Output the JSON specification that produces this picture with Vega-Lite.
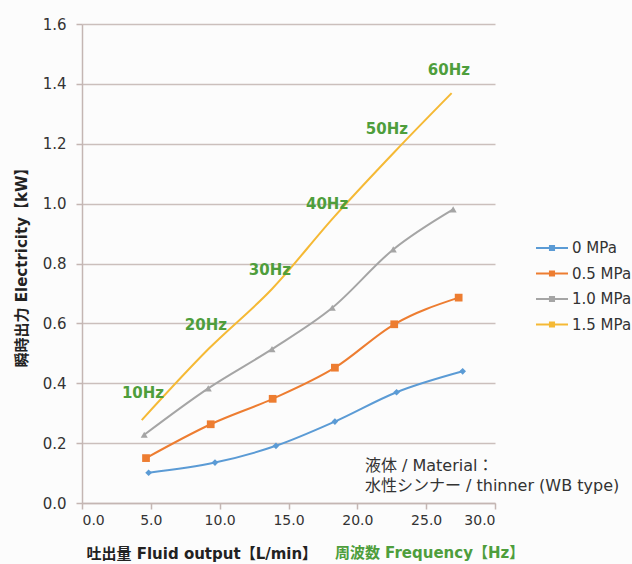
{
  "$schema": "https://vega.github.io/schema/vega-lite/v6.json",
  "width": 413,
  "height": 479,
  "autosize": {"type": "none"},
  "padding": {"left": 82, "top": 24, "right": 137, "bottom": 61},
  "background": "#fcfcfc",
  "config": {
    "view": {"stroke": null},
    "font": "DejaVu Sans, Noto Sans CJK JP",
    "axis": {
      "labelFont": "DejaVu Sans",
      "labelFontSize": 14,
      "labelColor": "#333333",
      "titleFont": "DejaVu Sans, Noto Sans CJK JP",
      "titleFontSize": 15,
      "titleFontWeight": "bold",
      "titleColor": "#222222",
      "domainColor": "#c4b6b3",
      "domainWidth": 1.5,
      "tickColor": "#c4b6b3",
      "tickWidth": 1.5,
      "tickSize": 6,
      "gridColor": "#cbbfbc",
      "gridWidth": 1.5
    },
    "legend": {
      "labelFont": "DejaVu Sans",
      "labelFontSize": 15,
      "labelColor": "#333333"
    }
  },
  "datasets": {
    "series": [
      {"series": "0 MPa", "flow": 4.84, "power": 0.101},
      {"series": "0 MPa", "flow": 9.66, "power": 0.135},
      {"series": "0 MPa", "flow": 14.09, "power": 0.191},
      {"series": "0 MPa", "flow": 18.37, "power": 0.272},
      {"series": "0 MPa", "flow": 22.85, "power": 0.370},
      {"series": "0 MPa", "flow": 27.65, "power": 0.440},
      {"series": "0.5 MPa", "flow": 4.65, "power": 0.150},
      {"series": "0.5 MPa", "flow": 9.35, "power": 0.263},
      {"series": "0.5 MPa", "flow": 13.85, "power": 0.348},
      {"series": "0.5 MPa", "flow": 18.37, "power": 0.452},
      {"series": "0.5 MPa", "flow": 22.68, "power": 0.597},
      {"series": "0.5 MPa", "flow": 27.36, "power": 0.686},
      {"series": "1.0 MPa", "flow": 4.52, "power": 0.228},
      {"series": "1.0 MPa", "flow": 9.17, "power": 0.383},
      {"series": "1.0 MPa", "flow": 13.8, "power": 0.514},
      {"series": "1.0 MPa", "flow": 18.18, "power": 0.652},
      {"series": "1.0 MPa", "flow": 22.61, "power": 0.847},
      {"series": "1.0 MPa", "flow": 26.96, "power": 0.981},
      {"series": "1.5 MPa", "flow": 4.34, "power": 0.277},
      {"series": "1.5 MPa", "flow": 9.2, "power": 0.515},
      {"series": "1.5 MPa", "flow": 13.8, "power": 0.715},
      {"series": "1.5 MPa", "flow": 18.3, "power": 0.955},
      {"series": "1.5 MPa", "flow": 22.75, "power": 1.175},
      {"series": "1.5 MPa", "flow": 26.85, "power": 1.369}
    ],
    "hz": [
      {"label": "10Hz", "flow": 4.43, "power": 0.367},
      {"label": "20Hz", "flow": 9.0, "power": 0.593},
      {"label": "30Hz", "flow": 13.65, "power": 0.777},
      {"label": "40Hz", "flow": 17.8, "power": 1.0},
      {"label": "50Hz", "flow": 22.15, "power": 1.25},
      {"label": "60Hz", "flow": 26.65, "power": 1.447}
    ],
    "notes": [
      {"text": "液体 / Material：\n水性シンナー / thinner (WB type)", "flow": 20.55, "power": 0.150, "kind": "note"},
      {"text": "周波数 Frequency【Hz】", "flow": 18.37, "power": -0.167, "kind": "freq"}
    ]
  },
  "encoding": {
    "x": {
      "field": "flow",
      "type": "quantitative",
      "scale": {"domain": [0, 30], "nice": false},
      "axis": {
        "values": [0, 5, 10, 15, 20, 25, 30],
        "format": ".1f",
        "grid": false,
        "labelPadding": 4,
        "title": "吐出量 Fluid output【L/min】",
        "titleAnchor": "start",
        "titleAlign": "left",
        "titleX": 4,
        "titleY": 50,
        "titleBaseline": "middle"
      }
    },
    "y": {
      "field": "power",
      "type": "quantitative",
      "scale": {"domain": [0, 1.6], "nice": false},
      "axis": {
        "values": [0, 0.2, 0.4, 0.6, 0.8, 1.0, 1.2, 1.4, 1.6],
        "format": ".1f",
        "labelFontSize": 15,
        "labelPadding": 10,
        "title": "瞬時出力 Electricity【kW】",
        "titlePadding": 13
      }
    }
  },
  "layer": [
    {
      "data": {"name": "series"},
      "mark": {"type": "line", "interpolate": "monotone", "strokeWidth": 2},
      "encoding": {
        "color": {
          "field": "series",
          "type": "nominal",
          "scale": {"domain": ["0 MPa", "0.5 MPa", "1.0 MPa", "1.5 MPa"], "range": ["#5b9bd5", "#ed7d31", "#a5a5a5", "#f5b935"]},
          "legend": null
        }
      }
    },
    {
      "data": {"name": "series"},
      "transform": [{"filter": "datum.series === '0 MPa'"}],
      "mark": {"type": "point", "shape": "diamond", "filled": true, "size": 45, "opacity": 1},
      "encoding": {"color": {"field": "series", "type": "nominal", "legend": null}}
    },
    {
      "data": {"name": "series"},
      "transform": [{"filter": "datum.series === '0.5 MPa'"}],
      "mark": {"type": "point", "shape": "square", "filled": true, "size": 60, "opacity": 1},
      "encoding": {"color": {"field": "series", "type": "nominal", "legend": null}}
    },
    {
      "data": {"name": "series"},
      "transform": [{"filter": "datum.series === '1.0 MPa'"}],
      "mark": {"type": "point", "shape": "triangle-up", "filled": true, "size": 50, "opacity": 1},
      "encoding": {"color": {"field": "series", "type": "nominal", "legend": null}}
    },
    {
      "data": {"name": "series"},
      "transform": [{"filter": "datum.power < -100"}],
      "mark": {"type": "point", "filled": true, "opacity": 1, "strokeWidth": 0},
      "encoding": {
        "fill": {
          "field": "series",
          "type": "nominal",
          "scale": {"domain": ["0 MPa", "0.5 MPa", "1.0 MPa", "1.5 MPa"], "range": ["#5b9bd5", "#ed7d31", "#a5a5a5", "#f5b935"]},
          "legend": {
            "title": null,
            "orient": "none",
            "legendX": 453,
            "legendY": 207,
            "padding": 0,
            "symbolType": "M-1,-0.06H1V0.06H-1ZM-0.19,-0.19H0.19V0.19H-0.19Z",
            "symbolSize": 1024,
            "labelOffset": 3,
            "rowPadding": 0.5
          }
        }
      }
    },
    {
      "data": {"name": "hz"},
      "mark": {"type": "text", "color": "#4e9e3c", "fontWeight": "bold", "fontSize": 15, "font": "DejaVu Sans", "align": "center", "baseline": "middle"},
      "encoding": {"text": {"field": "label"}}
    },
    {
      "data": {"name": "notes"},
      "transform": [{"filter": "datum.kind === 'note'"}],
      "mark": {"type": "text", "color": "#333333", "fontSize": 16, "font": "DejaVu Sans, Noto Sans CJK JP", "align": "left", "baseline": "top", "lineBreak": "\n", "lineHeight": 19.5},
      "encoding": {"text": {"field": "text"}}
    },
    {
      "data": {"name": "notes"},
      "transform": [{"filter": "datum.kind === 'freq'"}],
      "mark": {"type": "text", "color": "#4e9e3c", "fontSize": 15, "fontWeight": "bold", "font": "DejaVu Sans, Noto Sans CJK JP", "align": "left", "baseline": "middle"},
      "encoding": {"text": {"field": "text"}}
    }
  ],
  "resolve": {"scale": {"fill": "independent"}, "legend": {"fill": "independent"}}
}
